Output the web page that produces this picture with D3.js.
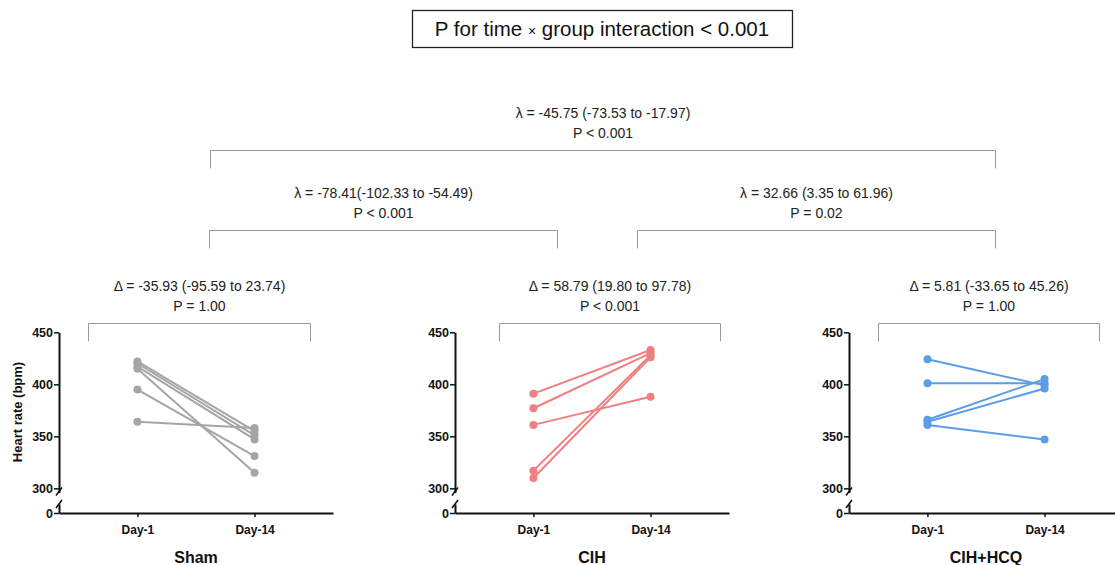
<!DOCTYPE html>
<html>
<head>
<meta charset="utf-8">
<script src="https://cdn.jsdelivr.net/npm/d3@7"></script>
<style>
  body { margin: 0; background: #fff; }
  text { font-family: "Liberation Sans", Arial, sans-serif; }
</style>
</head>
<body>
<svg width="1115" height="565"></svg>
<script>
// data
var days = ["Day-1", "Day-14"];
var groups = ["Sham", "CIH", "CIH+HCQ"];
var shamDay1 = [422, 420, 417, 415, 395, 364];
var shamDay14 = [355, 351, 347, 315, 331, 358];
var cihDay1 = [391, 377, 361, 317, 310];
var cihDay14 = [433, 430, 388, 428, 426];
var hcqDay1 = [424, 401, 366, 364, 361];
var hcqDay14 = [399, 401, 405, 396, 347];
var yTicks = [300, 350, 400, 450];
var deltaText = ["\u0394 = -35.93 (-95.59 to 23.74)", "\u0394 = 58.79 (19.80 to 97.78)", "\u0394 = 5.81 (-33.65 to 45.26)"];
var deltaP = ["P = 1.00", "P < 0.001", "P = 1.00"];
var lambdaText = ["\u03bb = -78.41(-102.33 to -54.49)", "\u03bb = 32.66 (3.35 to 61.96)", "\u03bb = -45.75 (-73.53 to -17.97)"];
var lambdaP = ["P < 0.001", "P = 0.02", "P < 0.001"];

var colors = ["#a5a5a5", "#f07f82", "#5b9de9"];
var day1s = [shamDay1, cihDay1, hcqDay1];
var day14s = [shamDay14, cihDay14, hcqDay14];

var svg = d3.select("svg");

// title box
svg.append("rect").attr("x", 412.5).attr("y", 10.5).attr("width", 380).attr("height", 37)
  .attr("fill", "none").attr("stroke", "#222").attr("stroke-width", 1.3);
var title = svg.append("text").attr("x", 602).attr("y", 36).attr("text-anchor", "middle")
  .attr("font-size", 20.5).attr("fill", "#111");
title.append("tspan").text("P for time ");
title.append("tspan").attr("font-size", 14).text("\u00d7");
title.append("tspan").text(" group interaction < 0.001");

function bracket(x1, x2, y, legs, t1, t2) {
  svg.append("path")
    .attr("d", "M" + x1 + "," + (y + legs) + "V" + y + "H" + x2 + "V" + (y + legs))
    .attr("fill", "none").attr("stroke", "#9a9a9a").attr("stroke-width", 1);
  var cx = (x1 + x2) / 2;
  svg.append("text").attr("x", cx).attr("y", y - 33).attr("text-anchor", "middle")
    .attr("font-size", 14).attr("fill", "#222").text(t1);
  svg.append("text").attr("x", cx).attr("y", y - 13).attr("text-anchor", "middle")
    .attr("font-size", 14).attr("fill", "#222").text(t2);
}

bracket(209.5, 557.5, 230.5, 18, lambdaText[0], lambdaP[0]);
bracket(637.5, 995.5, 230.5, 18, lambdaText[1], lambdaP[1]);
bracket(210.5, 995.5, 150.5, 18, lambdaText[2], lambdaP[2]);

var panelLeft = [59, 455, 849];
var panelWidth = 274;
var bracketX = [[88.5, 310.5], [499.5, 720.5], [878.5, 1099.5]];

groups.forEach(function (name, gi) {
  var left = panelLeft[gi];
  var g = svg.append("g");

  var x = d3.scalePoint().domain(days).range([left, left + panelWidth]).padding(0.67);
  var yTop = d3.scaleLinear().domain([296, 450]).range([492.5, 332.3]);
  var yLow = d3.scaleLinear().domain([0, 8]).range([513, 504]);

  // x axis
  var xAxis = d3.axisBottom(x).tickSize(4).tickSizeOuter(0);
  var xg = g.append("g").attr("transform", "translate(0,513)").call(xAxis);
  xg.select(".domain").attr("stroke", "#111").attr("stroke-width", 2);
  xg.selectAll(".tick line").attr("stroke", "#111").attr("stroke-width", 1.5);
  xg.selectAll(".tick text").attr("font-size", 12).attr("font-weight", "bold")
    .attr("fill", "#111").attr("dy", "1.2em").attr("font-family", "Liberation Sans, Arial, sans-serif");

  // y axis, upper part
  var ya = d3.axisLeft(yTop).tickValues(yTicks).tickSize(5).tickSizeOuter(0);
  var yg = g.append("g").attr("transform", "translate(" + left + ",0)").call(ya);
  // y axis, lower part
  var yb = d3.axisLeft(yLow).tickValues([0]).tickSize(5).tickSizeOuter(0);
  var yg2 = g.append("g").attr("transform", "translate(" + left + ",0)").call(yb);
  [yg, yg2].forEach(function (a) {
    a.select(".domain").attr("stroke", "#111").attr("stroke-width", 2);
    a.selectAll(".tick line").attr("stroke", "#111").attr("stroke-width", 1.5);
    a.selectAll(".tick text").attr("font-size", 12.5).attr("font-weight", "bold")
      .attr("fill", "#111").attr("x", -6).attr("font-family", "Liberation Sans, Arial, sans-serif");
  });
  // break marks
  g.append("path").attr("d", "M" + (left - 3) + "," + (yTop(296) + 3) + "L" + (left + 3) + "," + (yTop(296) - 5))
    .attr("stroke", "#111").attr("stroke-width", 1.6);
  g.append("path").attr("d", "M" + (left - 3) + "," + (yLow(8) + 4) + "L" + (left + 3) + "," + (yLow(8) - 4))
    .attr("stroke", "#111").attr("stroke-width", 1.6);

  // group label
  g.append("text").attr("x", (x(days[0]) + x(days[1])) / 2).attr("y", 563)
    .attr("text-anchor", "middle").attr("font-size", 16).attr("font-weight", "bold")
    .attr("fill", "#111").text(name);

  // paired lines and points
  var pairs = day1s[gi].map(function (v, i) { return [v, day14s[gi][i]]; });
  g.selectAll("line.pair").data(pairs).enter().append("line")
    .attr("class", "pair")
    .attr("x1", x(days[0])).attr("x2", x(days[1]))
    .attr("y1", function (d) { return yTop(d[0]); })
    .attr("y2", function (d) { return yTop(d[1]); })
    .attr("stroke", colors[gi]).attr("stroke-width", 2);
  var pts = [];
  pairs.forEach(function (p) {
    pts.push({ day: days[0], v: p[0] });
    pts.push({ day: days[1], v: p[1] });
  });
  g.selectAll("circle").data(pts).enter().append("circle")
    .attr("cx", function (d) { return x(d.day); })
    .attr("cy", function (d) { return yTop(d.v); })
    .attr("r", 4).attr("fill", colors[gi]);

  // bracket over panel
  bracket(bracketX[gi][0], bracketX[gi][1], 323.5, 18, deltaText[gi], deltaP[gi]);
});

// y axis title
svg.append("text").attr("transform", "translate(22,412) rotate(-90)")
  .attr("text-anchor", "middle").attr("font-size", 13).attr("font-weight", "bold")
  .attr("fill", "#111").text("Heart rate (bpm)");
</script>
</body>
</html>
